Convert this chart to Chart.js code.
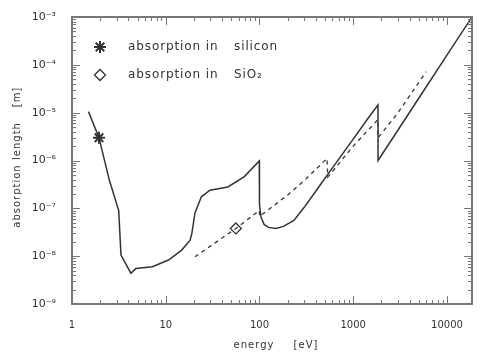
<!DOCTYPE html>
<html>
<head>
<meta charset="utf-8">
<script src="https://cdn.jsdelivr.net/npm/chart.js@4.4.1/dist/chart.umd.min.js"></script>
<style>
    html, body { margin: 0; padding: 0; background: #fff; }
</style>
</head>
<body>
<canvas id="chart" width="480" height="352"></canvas>
<script>
// absorption length in silicon (solid line), energy in eV, length in m
const siEnergy = [1.5, 1.94, 2.5, 3.15, 3.33, 4.25, 4.8, 7.2, 10.7, 14.8, 18.2, 19, 20.5, 24, 29.6, 46, 69, 99.5,
    100, 104, 112, 125, 150, 180, 233, 300, 400, 600, 1000, 1500, 1838,
    1840, 2500, 5000, 10000, 18500];
const siLength = [1.05e-5, 3.0e-6, 3.9e-7, 9.0e-8, 1.05e-8, 4.4e-9, 5.5e-9, 6.0e-9, 8.3e-9, 1.34e-8, 2.15e-8, 3.0e-8, 8.0e-8, 1.74e-7, 2.4e-7, 2.8e-7, 4.6e-7, 9.8e-7,
    1.2e-7, 6.5e-8, 4.6e-8, 4.0e-8, 3.8e-8, 4.2e-8, 5.6e-8, 1.05e-7, 2.3e-7, 7.0e-7, 2.8e-6, 8.5e-6, 1.45e-5,
    1.0e-6, 2.5e-6, 2.0e-5, 1.6e-4, 1.0e-3];

// absorption length in SiO2 (dashed line)
const sio2Energy = [20.5, 56, 99.5, 100.5, 200, 300, 525, 535, 1000, 1838, 1845, 3000, 6000];
const sio2Length = [9.7e-9, 3.8e-8, 9.0e-8, 6.8e-8, 1.9e-7, 3.8e-7, 1.1e-6, 4.5e-7, 2.0e-6, 7.2e-6, 3.0e-6, 9.9e-6, 7.2e-5];

// plot symbols on the curves
const siMarker = [1.94, 3.0e-6];
const sio2Marker = [56, 3.8e-8];

const legendLabels = [['absorption in', 'silicon'], ['absorption in', 'SiO\u2082']];
const xTicks = [1, 10, 100, 1000, 10000];
const xTickLabels = ['1', '10', '100', '1000', '10000'];
const yTicks = [1e-9, 1e-8, 1e-7, 1e-6, 1e-5, 1e-4, 1e-3];
const yTickLabels = ['10\u207B\u2079', '10\u207B\u2078', '10\u207B\u2077', '10\u207B\u2076', '10\u207B\u2075', '10\u207B\u2074', '10\u207B\u00B3'];
const xTitle = ['energy', '[eV]'];
const yTitle = ['absorption', 'length', '[m]'];

const ink = '#333';
const axisGray = '#777';
const fontFamily = '"DejaVu Sans", sans-serif';

const toPoints = (xs, ys) => xs.map((x, i) => ({ x: x, y: ys[i] }));

// IDL-style box with inward ticks, titles and the little legend
const framePlugin = {
    id: 'frame',
    afterDraw(chart) {
        const ctx = chart.ctx;
        const a = chart.chartArea;
        const xs = chart.scales.x;
        const ys = chart.scales.y;
        ctx.save();
        ctx.strokeStyle = axisGray;
        ctx.lineWidth = 2;
        ctx.strokeRect(a.left, a.top, a.right - a.left, a.bottom - a.top);

        ctx.lineWidth = 1;
        ctx.beginPath();
        for (let d = 1; d <= 10000; d *= 10) {
            for (let m = 1; m < 10; m++) {
                const v = d * m;
                if (v > xs.max) break;
                const px = Math.round(xs.getPixelForValue(v)) + 0.5;
                const len = m === 1 ? 8 : 4;
                ctx.moveTo(px, a.bottom); ctx.lineTo(px, a.bottom - len);
                ctx.moveTo(px, a.top); ctx.lineTo(px, a.top + len);
            }
        }
        for (let d = 1e-9; d < 1.5e-3; d *= 10) {
            for (let m = 1; m < 10; m++) {
                const v = d * m;
                if (v > ys.max * 1.0001) break;
                const py = Math.round(ys.getPixelForValue(v)) + 0.5;
                const len = m === 1 ? 8 : 4;
                ctx.moveTo(a.left, py); ctx.lineTo(a.left + len, py);
                ctx.moveTo(a.right, py); ctx.lineTo(a.right - len, py);
            }
        }
        ctx.stroke();

        // axis titles, words spaced out like the original
        ctx.fillStyle = ink;
        ctx.font = '10px ' + fontFamily;
        ctx.letterSpacing = '1px';
        ctx.textAlign = 'center';
        ctx.textBaseline = 'middle';
        ctx.fillText(xTitle[0], 254, 345);
        ctx.fillText(xTitle[1], 306, 345);
        ctx.save();
        ctx.translate(17, 0);
        ctx.rotate(-Math.PI / 2);
        ctx.fillText(yTitle[0], -196, 0);
        ctx.fillText(yTitle[1], -141, 0);
        ctx.fillText(yTitle[2], -97, 0);
        ctx.restore();

        // legend
        ctx.font = '12px ' + fontFamily;
        ctx.letterSpacing = '0.9px';
        ctx.textAlign = 'left';
        legendLabels.forEach((label, i) => {
            const y = 47 + i * 28;
            const style = i === 0 ? 'star' : 'rectRot';
            ctx.strokeStyle = ink;
            ctx.fillStyle = 'rgba(0,0,0,0)';
            ctx.lineWidth = i === 0 ? 2 : 1.3;
            Chart.helpers.drawPoint(ctx, { pointStyle: style, radius: i === 0 ? 6 : 5.5, borderWidth: ctx.lineWidth }, 100, y);
            ctx.fillStyle = ink;
            ctx.fillText(label[0], 128, y);
            ctx.fillText(label[1], 234, y);
        });
        ctx.restore();
    }
};

new Chart(document.getElementById('chart'), {
    type: 'scatter',
    data: {
        datasets: [
            {
                label: 'silicon',
                data: toPoints(siEnergy, siLength),
                showLine: true,
                borderColor: ink,
                borderWidth: 1.5,
                pointRadius: 0,
                tension: 0
            },
            {
                label: 'SiO2',
                data: toPoints(sio2Energy, sio2Length),
                showLine: true,
                borderColor: ink,
                borderWidth: 1.3,
                borderDash: [4, 4],
                pointRadius: 0,
                tension: 0
            },
            {
                label: 'silicon marker',
                data: [{ x: siMarker[0], y: siMarker[1] }],
                pointStyle: 'star',
                pointRadius: 6,
                borderColor: ink,
                borderWidth: 2
            },
            {
                label: 'SiO2 marker',
                data: [{ x: sio2Marker[0], y: sio2Marker[1] }],
                pointStyle: 'rectRot',
                pointRadius: 5.5,
                borderColor: ink,
                backgroundColor: 'rgba(0,0,0,0)',
                borderWidth: 1.3
            }
        ]
    },
    options: {
        responsive: false,
        animation: false,
        layout: { padding: { top: 17, right: 2, left: 0, bottom: 0 } },
        plugins: {
            legend: { display: false },
            tooltip: { enabled: false }
        },
        scales: {
            x: {
                type: 'logarithmic',
                min: 1,
                max: 18500,
                grid: { display: false },
                border: { display: false },
                afterBuildTicks: s => { s.ticks = xTicks.map(v => ({ value: v })); },
                afterFit: s => { s.height = 48; },
                ticks: {
                    autoSkip: false,
                    maxRotation: 0,
                    padding: 7,
                    color: ink,
                    font: { size: 10, family: fontFamily },
                    callback: (v, i) => xTickLabels[i]
                }
            },
            y: {
                type: 'logarithmic',
                min: 1e-9,
                max: 1e-3,
                grid: { display: false },
                border: { display: false },
                afterBuildTicks: s => { s.ticks = yTicks.map(v => ({ value: v })); },
                afterFit: s => { s.width = 72; },
                ticks: {
                    autoSkip: false,
                    padding: 8,
                    color: ink,
                    font: { size: 11, family: fontFamily },
                    callback: (v, i) => yTickLabels[i]
                }
            }
        }
    },
    plugins: [framePlugin]
});
</script>
</body>
</html>
